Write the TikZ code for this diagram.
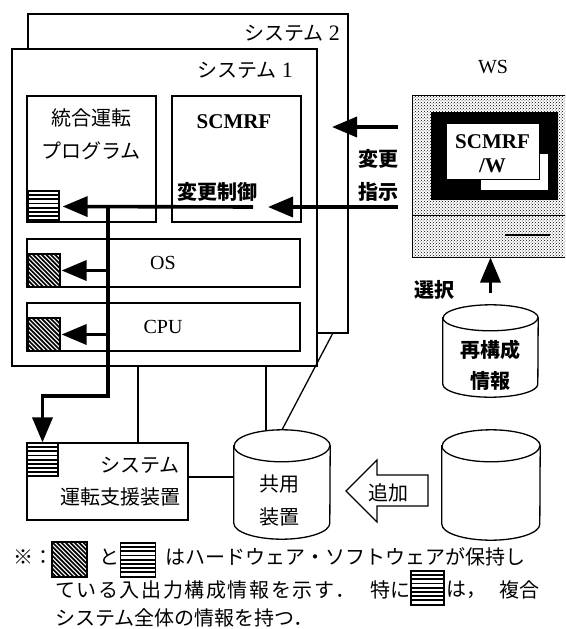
\documentclass[tikz,border=0pt]{standalone}
\usepackage{fontspec}
\setmainfont{Liberation Serif}
\newfontfamily\jp{Noto Sans CJK JP}
\newfontfamily\jpwide{Noto Sans CJK JP}[LetterSpace=8]
\usetikzlibrary{arrows.meta,patterns,calc}

% cylinder outline around a node: #1 node, #2 x radius, #3 y radius (pt)
\newcommand\drawdrum[3]{%
  \draw[wire, fill=white] ([yshift=-#3pt]#1.north west) -- ([yshift=#3pt]#1.south west)
    arc[start angle=180, end angle=360, x radius=#2pt, y radius=#3pt]
    -- ([yshift=-#3pt]#1.north east)
    arc[start angle=0, end angle=180, x radius=#2pt, y radius=#3pt] -- cycle;
  \draw[wire] ([yshift=-#3pt]#1.north west)
    arc[start angle=180, end angle=360, x radius=#2pt, y radius=#3pt];}

\begin{document}
\begin{tikzpicture}[x=1pt, y=-1pt,
  box/.style={draw, line width=1.2pt, fill=white, inner sep=0pt, rectangle},
  txt/.style={inner sep=0pt, font=\jp\fontsize{20}{24}\selectfont},
  btxt/.style={inner sep=0pt, font=\jp\bfseries\fontsize{20}{24}\selectfont},
  lat/.style={inner sep=0pt, font=\fontsize{20}{24}\selectfont},
  blat/.style={inner sep=0pt, font=\bfseries\fontsize{21}{24}\selectfont},
  wire/.style={line width=1.3pt},
  bus/.style={line width=3.6pt, -{Triangle[length=25pt,width=20pt]}},
  stripe/.style={draw, line width=1.2pt, fill=white, inner sep=0pt,
    path picture={
      \foreach \k in {1,...,7}
        \draw[line width=1.9pt]
          ([yshift={-\k*4.15pt}]path picture bounding box.north west) --
          ([yshift={-\k*4.15pt}]path picture bounding box.north east);}},
  hatch/.style={draw, line width=1.2pt, fill=white, inner sep=0pt,
    path picture={
      \foreach \k in {-10,...,10}
        \draw[line width=1.7pt]
          ([xshift={\k*4.4pt}]path picture bounding box.north west) -- ++(48pt,-48pt);}},
]
\clip (0,0) rectangle (565,629);

% ---- system frames ----
\node[box, minimum width=320pt, minimum height=319pt] (sys2) at (188,173.5) {};
\node[lat, anchor=east] (sys2lbl) at (340,33) {{\jp システム} {\fontsize{22}{24}\selectfont 2}};
\node[box, minimum width=305pt, minimum height=317pt] (sys1) at (164.5,207.5) {};
\node[lat, anchor=east] (sys1lbl) at (293,70) {{\jp システム} {\fontsize{22}{24}\selectfont 1}};

% ---- software / hardware blocks ----
\node[box, minimum width=129pt, minimum height=126pt] (prog) at (91.5,159) {};
\node[txt] (progl1) at (91,118) {統合運転};
\node[txt] (progl2) at (91,151) {プログラム};
\node[box, minimum width=129pt, minimum height=126pt] (scm) at (236.5,159) {};
\node[blat] (scmlbl) at (234,122) {SCMRF};
\node[btxt, anchor=west] (ctllbl) at (177,192) {変更制御};
\node[box, minimum width=273pt, minimum height=48pt] (os) at (163.5,263) {};
\node[lat] (oslbl) at (163,263) {OS};
\node[box, minimum width=273pt, minimum height=48pt] (cpu) at (163.5,327) {};
\node[lat] (cpulbl) at (163,327) {CPU};

\node[stripe, minimum width=31pt, minimum height=31pt] (progst) at (43.5,206.5) {};
\node[hatch, minimum width=32pt, minimum height=33pt] (osh) at (44,270.5) {};
\node[hatch, minimum width=32pt, minimum height=33pt] (cpuh) at (44,334.5) {};

% ---- support unit ----
\node[box, minimum width=161pt, minimum height=77pt] (sup) at (107.5,481.5) {};
\node[stripe, minimum width=31pt, minimum height=33pt] (supst) at (42.5,459.5) {};
\node[txt, anchor=east] (supl1) at (180,465) {システム};
\node[txt, anchor=east] (supl2) at (181,497) {運転支援装置};

% ---- disks ----
\node[inner sep=0pt, minimum width=96pt, minimum height=109pt] (shared) at (282,484.5) {};
\drawdrum{shared}{48}{16}
\node[txt] (sharedl1) at (279,484) {共用};
\node[txt] (sharedl2) at (279,517) {装置};
\node[inner sep=0pt, minimum width=98pt, minimum height=110pt] (spare) at (491,485) {};
\drawdrum{spare}{49}{16}
\node[inner sep=0pt, minimum width=95pt, minimum height=92pt] (recon) at (490.5,351) {};
\drawdrum{recon}{47.5}{13}
\node[btxt] (reconl1) at (490,350) {再構成};
\node[btxt] (reconl2) at (490,381) {情報};

% ---- workstation ----
\node[lat] (wslbl) at (493,67) {WS};
\node[draw, line width=1pt, pattern=crosshatch dots, pattern color=black, inner sep=0pt,
      minimum width=190pt, minimum height=162pt] (ws) at (507,176) {};
\coordinate (wsdiv) at (0,215);
\draw[line width=1pt] (ws.west |- wsdiv) -- (ws.east |- wsdiv);
\coordinate (slotl) at (505,235);
\coordinate (slotr) at (550,235);
\draw[line width=1.2pt] (slotl) -- (slotr);
\node[fill=black, inner sep=0pt, minimum width=127pt, minimum height=88pt] (screen) at (494.5,156) {};
\node[draw, fill=white, line width=0.8pt, inner sep=0pt, minimum width=68pt, minimum height=37pt] (win2) at (514,171.5) {};
\node[draw, fill=white, line width=0.8pt, inner sep=0pt, minimum width=93pt, minimum height=56pt] (win1) at (492.5,151) {};
\node[blat, align=center] (wintxt) at (492.5,154) {SCMRF\\/W};

% ---- change request from WS ----
\coordinate (wsa) at (398,127);
\coordinate (sysin) at (332,127);
\draw[bus] (wsa) -- (sysin);
\node[btxt] (reql1) at (378,159) {変更};
\node[btxt] (reql2) at (378,192) {指示};
\coordinate (wsb) at (398,207);
\coordinate (ctlin) at (268,207);
\draw[bus] (wsb) -- (ctlin);
\draw[bus] ([yshift=12pt]recon.north) -- (recon.north |- ws.south);
\node[btxt] (sellbl) at (434,290) {選択};

% ---- configuration distribution ----
\coordinate (ctl) at (253,207);
\coordinate (tap) at (108,207);
\coordinate (bend) at (108,396);
\draw[bus] (ctl) -- ([xshift=3pt]progst.east);
\draw[bus] (tap) -- (bend) -| (supst.north);
\draw[bus] (tap |- osh.east) -- ([xshift=1pt]osh.east);
\draw[bus] (tap |- cpuh.east) -- ([xshift=1pt]cpuh.east);

% ---- thin links ----
\draw[wire] ([xshift=30.5pt]sup.north) -- ([xshift=30.5pt]sup.north |- sys1.south);
\coordinate (dlink) at (266,0);
\draw[wire] (sys1.south -| dlink) -- ([yshift=-1.5pt]shared.north -| dlink);
\draw[wire] ([xshift=-16pt]sys2.south east) -- (shared.north);
\coordinate (hlink) at (0,477);
\draw[wire] (sup.east |- hlink) -- (shared.west |- hlink);

% ---- add arrow ----
\draw[wire, fill=white, line join=miter] (428,475) -- (377,475) -- (377,460) -- (346,491)
  -- (377,522) -- (377,506) -- (428,506) -- cycle;
\node[txt] (addlbl) at (388,493) {追加};

% ---- legend ----
\node[txt, anchor=west] (lg1a) at (13,557) {※：};
\node[hatch, minimum width=35pt, minimum height=35pt] (lgh) at (69.5,559.5) {};
\node[txt] (lg1b) at (109,557) {と};
\node[stripe, minimum width=35pt, minimum height=34pt] (lgs) at (138,560) {};
\node[txt, anchor=west] (lg1c) at (165,557) {はハードウェア・ソフトウェアが保持し};
\node[txt, anchor=west, font=\jpwide\fontsize{20}{24}\selectfont] (lg2a) at (55,590) {ている入出力構成情報を示す．};
\node[txt, anchor=west] (lg2b) at (370,590) {特に};
\node[stripe, minimum width=33pt, minimum height=34pt] (lgs2) at (427.5,588) {};
\node[txt, anchor=west] (lg2c) at (446,590) {は，};
\node[txt, anchor=west] (lg2d) at (499,590) {複合};
\node[txt, anchor=west] (lg3) at (55,618) {システム全体の情報を持つ．};
\end{tikzpicture}
\end{document}
